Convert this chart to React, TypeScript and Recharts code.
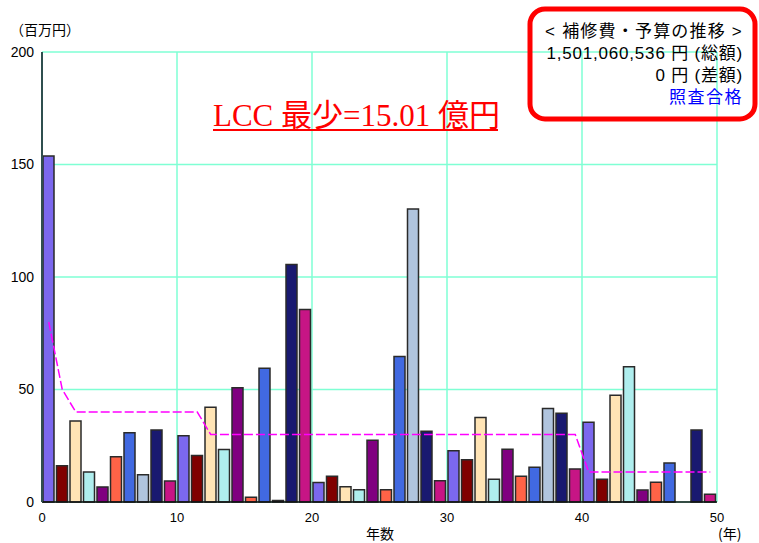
import React from 'react';
import { ComposedChart, Bar, Line, XAxis, YAxis, CartesianGrid, Cell } from 'recharts';

// Year of each repair (one bar per year, 0..49)
const years = [
  0, 1, 2, 3, 4, 5, 6, 7, 8, 9,
  10, 11, 12, 13, 14, 15, 16, 17, 18, 19,
  20, 21, 22, 23, 24, 25, 26, 27, 28, 29,
  30, 31, 32, 33, 34, 35, 36, 37, 38, 39,
  40, 41, 42, 43, 44, 45, 46, 47, 48, 49,
];

// Repair cost per year (million yen)
const repairCost = [
  153.8, 16.1, 36.0, 13.3, 6.7, 20.1, 30.8, 12.1, 32.0, 9.3,
  29.5, 20.7, 42.1, 23.3, 50.8, 2.1, 59.4, 0.7, 105.6, 85.6,
  8.7, 11.4, 6.8, 5.5, 27.4, 5.5, 64.7, 130.2, 31.4, 9.5,
  22.8, 18.8, 37.6, 10.1, 23.4, 11.4, 15.4, 41.6, 39.4, 14.7,
  35.4, 10.1, 47.4, 60.1, 5.3, 8.8, 17.3, 0, 32.0, 3.4,
];

// Budget per year (million yen)
const budget = [
  80, 50, 40, 40, 40, 40, 40, 40, 40, 40,
  40, 40, 30, 30, 30, 30, 30, 30, 30, 30,
  30, 30, 30, 30, 30, 30, 30, 30, 30, 30,
  30, 30, 30, 30, 30, 30, 30, 30, 30, 30,
  13.3, 13.3, 13.3, 13.3, 13.3, 13.3, 13.3, 13.3, 13.3, 13.3,
];

const xTicks = [0, 10, 20, 30, 40, 50];
const yTicks = [0, 50, 100, 150, 200];

// Bar fill colours, repeating every ten years
const palette = [
  '#7B68EE', '#800000', '#FFE4B5', '#AFEEEE', '#800080',
  '#FF6347', '#4169E1', '#B0C4DE', '#191970', '#C71585',
];

const data = years.map((year, i) => ({
  year,
  mid: year + 0.5,
  cost: repairCost[i],
  budget: budget[i],
}));

const jp = "'Noto Sans CJK JP', sans-serif";
const boxFont = "'Liberation Sans', 'Noto Sans CJK JP', sans-serif";
const latin = "'Liberation Sans', Arial, sans-serif";

export default function App() {
  return (
    <div style={{ position: 'absolute', left: 0, top: 0, width: 759, height: 543, background: '#fff' }}>
      <ComposedChart
        width={759}
        height={543}
        data={data}
        margin={{ top: 52, right: 42, bottom: 11, left: 8 }}
      >
        <CartesianGrid stroke="#7FFFD4" strokeWidth={1.5} />
        <XAxis
          dataKey="mid"
          type="number"
          domain={[0, 50]}
          ticks={xTicks}
          allowDataOverflow
          height={30}
          tickLine={false}
          tickMargin={5}
          axisLine={{ stroke: '#111', strokeWidth: 1.5 }}
          tick={{ fontSize: 13, fill: '#000', fontFamily: latin }}
          interval={0}
        />
        <YAxis
          type="number"
          domain={[0, 200]}
          ticks={yTicks}
          width={34}
          tickLine={false}
          axisLine={{ stroke: '#2F4F4F', strokeWidth: 2 }}
          tick={{ fontSize: 14, fill: '#000', fontFamily: latin }}
          interval={0}
        />
        <Bar dataKey="cost" barSize={11} stroke="#2a2a2a" strokeWidth={1.5} isAnimationActive={false}>
          {data.map((d, i) => (
            <Cell key={d.year} fill={palette[i % palette.length]} />
          ))}
        </Bar>
        <Line
          dataKey="budget"
          type="linear"
          stroke="#FF00FF"
          strokeWidth={1.5}
          strokeDasharray="9 3"
          dot={false}
          activeDot={false}
          isAnimationActive={false}
        />
      </ComposedChart>
      <svg
        width={759}
        height={543}
        style={{ position: 'absolute', left: 0, top: 0, pointerEvents: 'none' }}
      >
        <text x={10} y={35} fontSize={14} fontFamily={jp} fill="#000">（百万円）</text>
        <text x={380} y={539} fontSize={14} fontFamily={jp} fill="#000" textAnchor="middle">年数</text>
        <text x={718} y={539} fontSize={14} fontFamily={jp} fill="#000">(年)</text>

        <text x={213} y={126} fontSize={31} fill="#FF0000" fontFamily="'Liberation Serif', 'Noto Sans CJK JP', serif">
          LCC 最少=15.01 億円
        </text>
        <line x1={213} y1={130} x2={498} y2={130} stroke="#FF0000" strokeWidth={2} />

        <rect x={530} y={9} width={225} height={110} rx={15} ry={15} fill="none" stroke="#FF0000" strokeWidth={5} />
        <g fontFamily={boxFont} fontSize={17} textAnchor="end">
          <text x={743} y={37} fill="#000" letterSpacing={1.2}>&lt; 補修費・予算の推移 &gt;</text>
          <text x={743} y={59} fill="#000" letterSpacing={0.8}>1,501,060,536 円 (総額)</text>
          <text x={743} y={81} fill="#000" letterSpacing={0.8}>0 円 (差額)</text>
          <text x={743} y={103} fill="#0000FF" letterSpacing={1.5}>照査合格</text>
        </g>
      </svg>
    </div>
  );
}
